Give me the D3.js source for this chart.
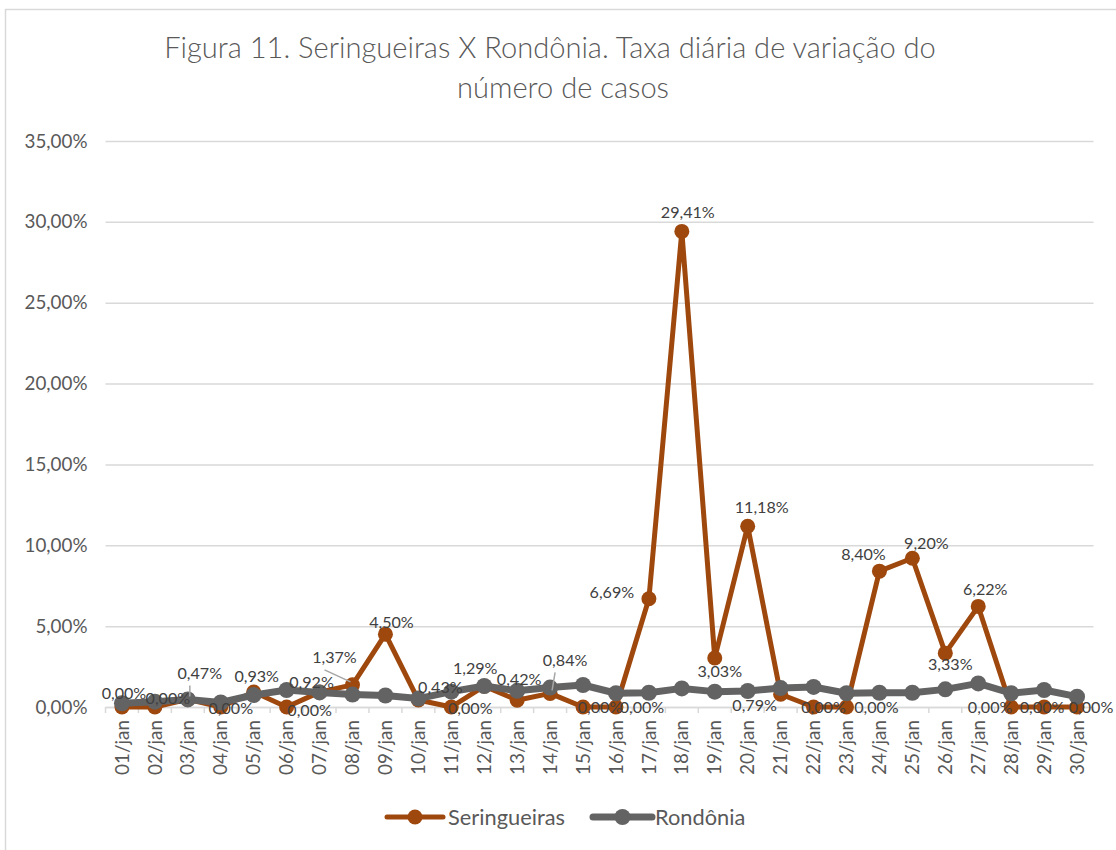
<!DOCTYPE html>
<html>
<head>
<meta charset="utf-8">
<script src="https://cdn.jsdelivr.net/npm/d3@7"></script>
<style>
  html, body { margin: 0; padding: 0; background: #ffffff; }
  svg { display: block; }
</style>
</head>
<body>
<script>
// ---------- data ----------
const days = ["01/jan","02/jan","03/jan","04/jan","05/jan","06/jan","07/jan","08/jan","09/jan","10/jan",
              "11/jan","12/jan","13/jan","14/jan","15/jan","16/jan","17/jan","18/jan","19/jan","20/jan",
              "21/jan","22/jan","23/jan","24/jan","25/jan","26/jan","27/jan","28/jan","29/jan","30/jan"];
const seringueiras = [0.00,0.00,0.47,0.00,0.93,0.00,0.92,1.37,4.50,0.43,
                      0.00,1.29,0.42,0.84,0.00,0.00,6.69,29.41,3.03,11.18,
                      0.79,0.00,0.00,8.40,9.20,3.33,6.22,0.00,0.00,0.00];
const rondonia = [0.23,0.33,0.47,0.28,0.74,1.05,0.90,0.77,0.71,0.52,
                  0.95,1.30,1.00,1.20,1.36,0.85,0.88,1.15,0.95,0.99,
                  1.17,1.24,0.85,0.88,0.88,1.09,1.46,0.85,1.05,0.64];
const yTicks = [0,5,10,15,20,25,30,35];
const seriesNames = ["Seringueiras","Rondônia"];
const titleLines = ["Figura 11. Seringueiras X Rondônia. Taxa diária de variação do","número de casos"];

// label placement (offset of label centre from its point), style only
const labelOffsets = [[2,-14],[13,-9],[12,-26],[10,1],[3,-16],[23,3],[-8,-10],[-18,-27],[6,-12],[22,-13],
                      [19,1],[-9,-18],[2,-21],[15,-33],[17,0],[26,0],[-37,-6],[6,-19],[5,13],[14,-19],
                      [-26,11],[10,0],[30,0],[-16,-17],[14,-15],[5,11],[7,-17],[-21,0],[-2,0],[14,0]];
const leaderIdx = [2,7,13];

// ---------- setup ----------
const W = 1116, H = 850;
const FONT = "Lato, 'Open Sans', sans-serif";
const TXT = "#595959";
const ORANGE = "#9E480E", GRAY = "#636363";
const svg = d3.select("body").append("svg").attr("width", W).attr("height", H);

function fitFont(txt, target, weight) {
  const t = svg.append("text").attr("font-family", FONT).attr("font-size", 100)
    .attr("font-weight", weight || 400).text(txt);
  const w = t.node().getComputedTextLength();
  t.remove();
  return 100 * target / w;
}

svg.append("rect").attr("x", 0).attr("y", 0).attr("width", W).attr("height", H).attr("fill", "#fff");
svg.append("rect").attr("x", 5.5).attr("y", 9.5).attr("width", W + 10).attr("height", H + 10)
  .attr("fill", "#fff").attr("stroke", "#d9d9d9").attr("stroke-width", 1.5);

// title
const titleSize = fitFont(titleLines[0], 772, 300);
svg.append("text").attr("x", 550).attr("y", 58).attr("text-anchor", "middle")
  .attr("font-family", FONT).attr("font-weight", 300).attr("font-size", titleSize)
  .attr("fill", TXT).text(titleLines[0]);
svg.append("text").attr("x", 563).attr("y", 98).attr("text-anchor", "middle")
  .attr("font-family", FONT).attr("font-weight", 300).attr("font-size", titleSize)
  .attr("fill", TXT).text(titleLines[1]);

// scales
const plotL = 105.5, plotR = 1093.5, plotT = 141, plotB = 707;
const x = d3.scaleBand().domain(days).range([plotL, plotR]);
const xc = d => x(d) + x.bandwidth() / 2;
const y = d3.scaleLinear().domain([0, 35]).range([plotB, plotT]);
const fmt = v => d3.format(".2f")(v).replace(".", ",") + "%";

// gridlines + y axis labels
const yAxisSize = fitFont("35,00%", 63);
const yAxis = d3.axisLeft(y).tickValues(yTicks).tickSize(-(plotR - plotL)).tickFormat(fmt).tickPadding(18);
const gy = svg.append("g").attr("transform", `translate(${plotL},0)`).call(yAxis);
gy.select(".domain").remove();
gy.selectAll(".tick line").attr("stroke", "#d9d9d9").attr("stroke-width", 1.5);
gy.selectAll(".tick text").attr("font-family", FONT).attr("font-size", yAxisSize).attr("fill", TXT);

// x axis
const xAxisSize = fitFont("01/jan", 55);
const gx = svg.append("g").attr("transform", `translate(0,${plotB})`)
  .call(d3.axisBottom(x).tickSize(0).tickPadding(0));
gx.select(".domain").attr("stroke", "#d9d9d9").attr("stroke-width", 1.5);
gx.selectAll(".tick text")
  .attr("font-family", FONT).attr("font-size", xAxisSize).attr("fill", TXT)
  .attr("text-anchor", "end").attr("dy", "0.35em")
  .attr("transform", "translate(0,13) rotate(-90)");
// category boundary tick marks
const bounds = days.map(d => x(d)).concat([plotR]);
svg.append("g").selectAll("line").data(bounds).join("line")
  .attr("x1", d => d).attr("x2", d => d).attr("y1", plotB).attr("y2", plotB + 6)
  .attr("stroke", "#d9d9d9").attr("stroke-width", 1.5);

// lines
const line = d3.line().x((d, i) => xc(days[i])).y(d => y(d));
svg.append("path").datum(seringueiras).attr("d", line).attr("fill", "none")
  .attr("stroke", ORANGE).attr("stroke-width", 5).attr("stroke-linejoin", "round");
svg.append("g").selectAll("circle").data(seringueiras).join("circle")
  .attr("cx", (d, i) => xc(days[i])).attr("cy", d => y(d)).attr("r", 7.5).attr("fill", ORANGE);
svg.append("path").datum(rondonia).attr("d", line).attr("fill", "none")
  .attr("stroke", GRAY).attr("stroke-width", 7).attr("stroke-linejoin", "round");
svg.append("g").selectAll("circle").data(rondonia).join("circle")
  .attr("cx", (d, i) => xc(days[i])).attr("cy", d => y(d)).attr("r", 8).attr("fill", GRAY);

// leader lines
const labelSize = fitFont("29,41%", 54);
svg.append("g").selectAll("line").data(leaderIdx).join("line")
  .attr("x1", i => xc(days[i]) + labelOffsets[i][0] - 10)
  .attr("y1", i => y(seringueiras[i]) + labelOffsets[i][1] + 12)
  .attr("x2", i => xc(days[i]) + (labelOffsets[i][0] > 0 ? 2 : -2))
  .attr("y2", i => y(seringueiras[i]) - 3)
  .attr("stroke", "#a6a6a6").attr("stroke-width", 1.5);

// data labels
svg.append("g").selectAll("text").data(seringueiras).join("text")
  .attr("x", (d, i) => xc(days[i]) + labelOffsets[i][0])
  .attr("y", (d, i) => y(d) + labelOffsets[i][1])
  .attr("dy", "0.35em").attr("text-anchor", "middle")
  .attr("font-family", FONT).attr("font-size", labelSize).attr("fill", "#404040")
  .text(d => fmt(d));

// legend
const legSize = fitFont("Seringueiras", 117);
const legend = [
  { name: seriesNames[0], color: ORANGE, x1: 387, x2: 443, w: 5, r: 7.5, tx: 448 },
  { name: seriesNames[1], color: GRAY, x1: 593, x2: 652, w: 7, r: 8, tx: 655 }
];
const lg = svg.append("g").selectAll("g").data(legend).join("g");
lg.append("line").attr("x1", d => d.x1).attr("x2", d => d.x2).attr("y1", 817).attr("y2", 817)
  .attr("stroke", d => d.color).attr("stroke-width", d => d.w).attr("stroke-linecap", "round");
lg.append("circle").attr("cx", d => (d.x1 + d.x2) / 2).attr("cy", 817).attr("r", d => d.r).attr("fill", d => d.color);
lg.append("text").attr("x", d => d.tx).attr("y", 817).attr("dy", "0.35em")
  .attr("font-family", FONT).attr("font-size", legSize).attr("fill", TXT).text(d => d.name);
</script>
</body>
</html>
